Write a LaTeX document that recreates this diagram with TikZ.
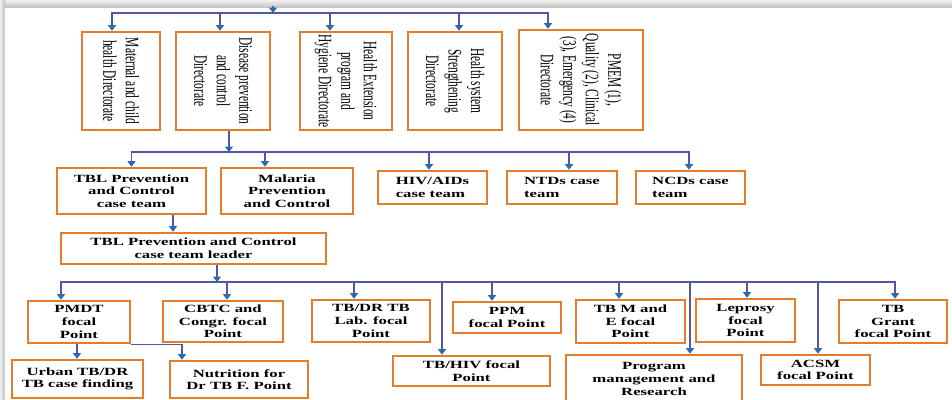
\documentclass[tikz,border=0pt]{standalone}
\usepackage{fontspec}
\setmainfont{Liberation Serif}
\newfontfamily\teamfont[FakeStretch=1.52]{Liberation Serif}
\newfontfamily\dirfont[FakeStretch=0.6]{Liberation Serif}
\usetikzlibrary{arrows.meta,calc}

\definecolor{boxorange}{HTML}{E27D2C}
\definecolor{linkblue}{HTML}{5257A0}
\definecolor{tipblue}{HTML}{2A6BB0}

\tikzset{
	box/.style={draw=boxorange, line width=2.6pt, fill=white, inner sep=1pt},
	dirbox/.style={box, rotate=-90, align=center, font=\dirfont\fontsize{19}{22.5}\selectfont},
	teambox/.style={box, align=center, font=\teamfont\fontsize{11}{12.6}\selectfont\bfseries},
	link/.style={draw=linkblue, line width=1.2pt, -{Triangle[width=8pt,length=5.5pt,color=tipblue]}},
}

\begin{document}
\begin{tikzpicture}[x=1pt,y=-1pt]
		\useasboundingbox (0,0) rectangle (952,399);
		% frame
		\shade[top color=gray!12, bottom color=gray!50] (0,0) rectangle (952,8);
		\shade[left color=gray!12, right color=gray!50] (0,0) rectangle (5,399);
		\fill[white] (5,8) rectangle (952,399);

		% directorates
		\node[dirbox, minimum width=98pt, minimum height=78pt] (mch) at (121,81) {Maternal and child\\health Directorate};
		\node[dirbox, minimum width=98pt, minimum height=94pt] (dpc) at (223,81) {Disease prevention\\and control\\Directorate};
		\node[dirbox, minimum width=98pt, minimum height=92pt] (hep) at (346,81) {Health Extension\\program and\\Hygiene Directorate};
		\node[dirbox, minimum width=98pt, minimum height=94pt] (hss) at (455,81) {Health system\\Strengthening\\Directorate};
		\node[dirbox, minimum width=100pt, minimum height=124pt] (pmem) at (581,80) {PMEM (1),\\Quality (2), Clinical\\(3), Emergency (4)\\Directorate};

		% case teams
		\node[teambox, minimum width=149pt, minimum height=46pt] (tbl) at (131.5,191) {TBL Prevention\\and Control\\case team};
		\node[teambox, minimum width=132pt, minimum height=46pt] (mal) at (287,191) {Malaria\\Prevention\\and Control};
		\node[teambox, align=left, minimum width=109pt, minimum height=33pt] (hiv) at (432.5,187.5) {HIV/AIDs\\case team};
		\node[teambox, align=left, minimum width=110pt, minimum height=33pt] (ntd) at (562,187.5) {NTDs case\\team};
		\node[teambox, align=left, minimum width=109pt, minimum height=33pt] (ncd) at (690.5,187.5) {NCDs case\\team};
		\node[teambox, minimum width=265pt, minimum height=31pt] (lead) at (193.5,248.5) {TBL Prevention and Control\\case team leader};

		% focal points
		\node[teambox, minimum width=102pt, minimum height=42pt] (pmdt) at (79,322) {PMDT\\focal\\Point};
		\node[teambox, minimum width=120pt, minimum height=41pt] (cbtc) at (223,321.5) {CBTC and\\Congr. focal\\Point};
		\node[teambox, minimum width=118pt, minimum height=42pt] (lab) at (371,321) {TB/DR TB\\Lab. focal\\Point};
		\node[teambox, minimum width=108pt, minimum height=31pt] (ppm) at (507,317.5) {PPM\\focal Point};
		\node[teambox, minimum width=109pt, minimum height=43pt] (tme) at (630.5,321.5) {TB M and\\E focal\\Point};
		\node[teambox, minimum width=99pt, minimum height=43pt] (lep) at (745.5,320.5) {Leprosy\\focal\\Point};
		\node[teambox, minimum width=108pt, minimum height=43pt] (grant) at (893,321.5) {TB\\Grant\\focal Point};
		\node[teambox, minimum width=157pt, minimum height=30pt] (tbhiv) at (471.5,371) {TB/HIV focal\\Point};
		\node[teambox, minimum width=176pt, minimum height=48pt] (prog) at (654,379) {Program\\management and\\Research};
		\node[teambox, minimum width=109pt, minimum height=30pt] (acsm) at (815.5,370) {ACSM\\focal Point};
		\node[teambox, minimum width=131pt, minimum height=38pt] (urban) at (77.5,379) {Urban TB/DR\\TB case finding};
		\node[teambox, minimum width=138pt, minimum height=37pt] (nutr) at (239,379.5) {Nutrition for\\Dr TB F. Point};

		% connectors
		\coordinate (root) at (273,6);
		\coordinate (bus1) at (273,13);
		\draw[link] (root) -- (bus1);
		\draw[link] (bus1) -| ([xshift=-9pt]mch.west);
		\draw[link] (bus1) -| ([xshift=-3pt]dpc.west);
		\draw[link] (bus1) -| ([xshift=-16pt]hep.west);
		\draw[link] (bus1) -| ([xshift=4pt]hss.west);
		\draw[link] (bus1) -| ([xshift=-33pt]pmem.west);

		\coordinate (bus2) at (229,152);
		\draw[link] ([xshift=6pt]dpc.east) -- (bus2);
		\draw[link] (bus2) -| (tbl.north);
		\draw[link] (bus2) -| ([xshift=-22pt]mal.north);
		\draw[link] (bus2) -| ([xshift=-3.5pt]hiv.north);
		\draw[link] (bus2) -| ([xshift=7pt]ntd.north);
		\draw[link] (bus2) -| ([xshift=-1.5pt]ncd.north);

		\coordinate (tbldown) at ([xshift=41.5pt]tbl.south);
		\draw[link] (tbldown) -- (tbldown |- lead.north);

		\coordinate (bus3) at (217,282);
		\draw[link] ([xshift=23.5pt]lead.south) -- (bus3);
		\draw[link] (bus3) -| ([xshift=-18pt]pmdt.north);
		\draw[link] (bus3) -| ([xshift=4pt]cbtc.north);
		\draw[link] (bus3) -| ([xshift=-17pt]lab.north);
		\draw[link] (bus3) -| ([xshift=-29.5pt]tbhiv.north);
		\draw[link] (bus3) -| ([xshift=-15pt]ppm.north);
		\draw[link] (bus3) -| ([xshift=-11.5pt]tme.north);
		\draw[link] (bus3) -| ([xshift=36pt]prog.north);
		\draw[link] (bus3) -| ([xshift=1.5pt]lep.north);
		\draw[link] (bus3) -| ([xshift=2.5pt]acsm.north);
		\draw[link] (bus3) -| ([xshift=2pt]grant.north);

		\coordinate (pmdtdown) at ([xshift=-2pt]pmdt.south);
		\draw[link] (pmdtdown) -- (pmdtdown |- urban.north);
		\draw[link] (pmdt.south east) -| ([xshift=-57pt]nutr.north);
	\end{tikzpicture}
\end{document}
